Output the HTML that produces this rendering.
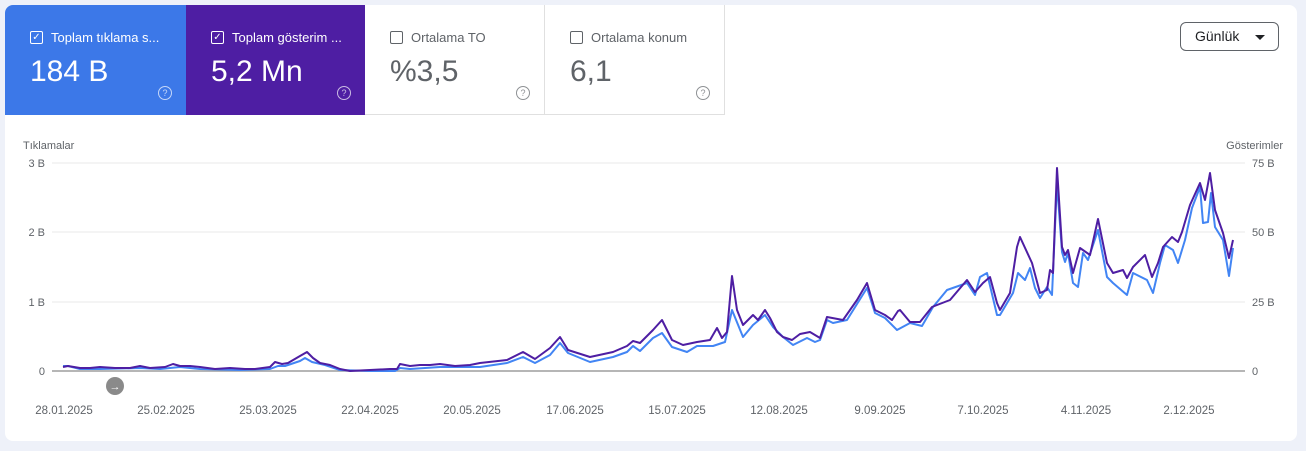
<!DOCTYPE html>
<html><head><meta charset="utf-8"><style>
body{margin:0;width:1306px;height:451px;background:#eef1f9;font-family:"Liberation Sans",sans-serif;overflow:hidden;position:relative}
.card{position:absolute;left:5px;top:5px;width:1292px;height:436px;background:#fff;border-radius:8px;overflow:hidden}
.tile{position:absolute;top:0;height:110px;box-sizing:border-box}
.lab{position:absolute;left:25px;top:25px;font-size:13px;display:flex;align-items:center;white-space:nowrap}
.cb{width:11px;height:11px;border:1px solid currentColor;border-radius:2px;margin-right:8px;font-size:10px;line-height:11px;text-align:center}
.val{position:absolute;left:25px;top:50px;font-size:30px}
.q{position:absolute;right:14px;top:81px;width:12px;height:12px;border:1.3px solid currentColor;border-radius:50%;font-size:9px;text-align:center;line-height:12px;opacity:.7}
</style></head><body>
<div class="card">
<div class="tile" style="left:0;width:181px;background:#3c78e8;color:#fff"><div class="lab"><span class="cb">✓</span>Toplam tıklama s...</div><div class="val">184 B</div><div class="q">?</div></div>
<div class="tile" style="left:181px;width:179px;background:#4e1ea3;color:#fff"><div class="lab"><span class="cb">✓</span>Toplam gösterim ...</div><div class="val">5,2 Mn</div><div class="q">?</div></div>
<div class="tile" style="left:360px;width:180px;color:#5f6368;border-right:1px solid #e0e0e0;border-bottom:1px solid #e0e0e0"><div class="lab"><span class="cb"></span>Ortalama TO</div><div class="val">%3,5</div><div class="q">?</div></div>
<div class="tile" style="left:540px;width:180px;color:#5f6368;border-right:1px solid #e0e0e0;border-bottom:1px solid #e0e0e0"><div class="lab"><span class="cb"></span>Ortalama konum</div><div class="val">6,1</div><div class="q">?</div></div>
<div style="position:absolute;left:1175px;top:17px;width:99px;height:29px;border:1px solid #5f6368;border-radius:6px;box-sizing:border-box;font-size:14px;color:#202124;line-height:27px;padding-left:14px">Günlük <span style="position:absolute;right:13px;top:12px;border-left:5px solid transparent;border-right:5px solid transparent;border-top:5px solid #202124"></span></div>
</div>
<svg style="position:absolute;left:0;top:0" width="1306" height="451" font-family="Liberation Sans, sans-serif" font-size="11" fill="#5f6368">
<text x="23" y="149">Tıklamalar</text>
<text x="1283" y="149" text-anchor="end">Gösterimler</text>
<g stroke="#e8e8e8" stroke-width="1"><line x1="52" x2="1245" y1="163" y2="163"/><line x1="52" x2="1245" y1="232" y2="232"/><line x1="52" x2="1245" y1="302" y2="302"/></g>
<line x1="52" x2="1245" y1="371" y2="371" stroke="#9e9e9e" stroke-width="1.5"/>
<g text-anchor="end"><text x="45" y="167">3 B</text><text x="45" y="236">2 B</text><text x="45" y="306">1 B</text><text x="45" y="375">0</text></g>
<g><text x="1252" y="167">75 B</text><text x="1252" y="236">50 B</text><text x="1252" y="306">25 B</text><text x="1252" y="375">0</text></g>
<circle cx="115" cy="386" r="9" fill="#8a8a8a"/><text x="115" y="390" fill="#fff" text-anchor="middle" font-size="11">→</text>
<g text-anchor="middle" font-size="11.5"><text x="64" y="414">28.01.2025</text><text x="166" y="414">25.02.2025</text><text x="268" y="414">25.03.2025</text><text x="370" y="414">22.04.2025</text><text x="472" y="414">20.05.2025</text><text x="575" y="414">17.06.2025</text><text x="677" y="414">15.07.2025</text><text x="779" y="414">12.08.2025</text><text x="880" y="414">9.09.2025</text><text x="983" y="414">7.10.2025</text><text x="1086" y="414">4.11.2025</text><text x="1189" y="414">2.12.2025</text></g>
<polyline fill="none" stroke="#4285f4" stroke-width="2" stroke-linejoin="round" points="63,366 68,366 80,369 100,369 140,368 160,369 180,367 200,369 240,370 270,369 278,366 285,366 300,361 305,358 312,362 325,365 340,370 370,371 395,371 400,368 410,369 440,367 470,367 480,367 507,363 523,357 535,363 550,355 560,343 568,353 590,362 613,357 627,352 633,346 640,351 653,338 662,333 672,347 687,352 697,346 713,346 725,342 732,310 743,337 753,325 765,315 773,327 783,337 793,345 807,338 815,342 820,340 827,320 833,323 847,320 867,288 875,313 885,318 897,330 910,323 922,326 933,307 947,290 967,283 975,295 980,277 987,273 997,315 1000,315 1013,293 1018,273 1025,280 1030,268 1035,288 1040,298 1047,287 1052,295 1057,183 1062,252 1065,262 1068,253 1073,283 1078,287 1083,253 1088,260 1098,230 1107,277 1113,283 1127,295 1133,273 1147,280 1153,293 1160,263 1165,245 1173,250 1178,263 1185,240 1192,208 1200,187 1203,223 1208,222 1211,193 1215,227 1223,240 1229,276 1233,248"/>
<polyline fill="none" stroke="#4e1ea3" stroke-width="2" stroke-linejoin="round" points="63,367 68,366 80,368 90,368 100,367 115,368 130,368 140,366 150,368 165,367 173,364 180,366 190,366 200,367 215,369 230,368 245,369 255,369 270,367 275,362 282,364 288,363 300,356 307,352 313,358 320,363 330,365 340,369 350,371 370,370 390,369 397,369 400,364 410,366 420,365 430,365 440,364 455,366 470,365 480,363 507,360 523,352 535,359 550,348 560,337 568,350 590,357 613,352 627,346 633,341 640,343 653,330 662,320 672,340 683,345 697,342 710,340 717,328 722,338 727,332 732,276 737,310 743,325 753,315 758,320 765,310 770,318 777,332 783,337 792,340 800,334 810,332 815,335 820,338 827,317 843,320 850,310 857,300 867,283 875,310 885,315 892,320 898,311 900,310 910,322 920,322 932,307 937,305 950,300 967,280 975,292 983,283 990,277 997,303 1000,310 1010,293 1017,247 1020,237 1032,263 1040,293 1047,290 1050,270 1053,273 1057,168 1062,247 1065,255 1068,250 1073,273 1080,248 1090,255 1098,219 1107,263 1113,273 1123,270 1127,278 1133,267 1145,255 1152,277 1158,263 1163,247 1172,237 1178,242 1182,232 1190,205 1200,183 1205,200 1210,173 1215,210 1223,233 1229,258 1233,240"/>
</svg>
</body></html>
